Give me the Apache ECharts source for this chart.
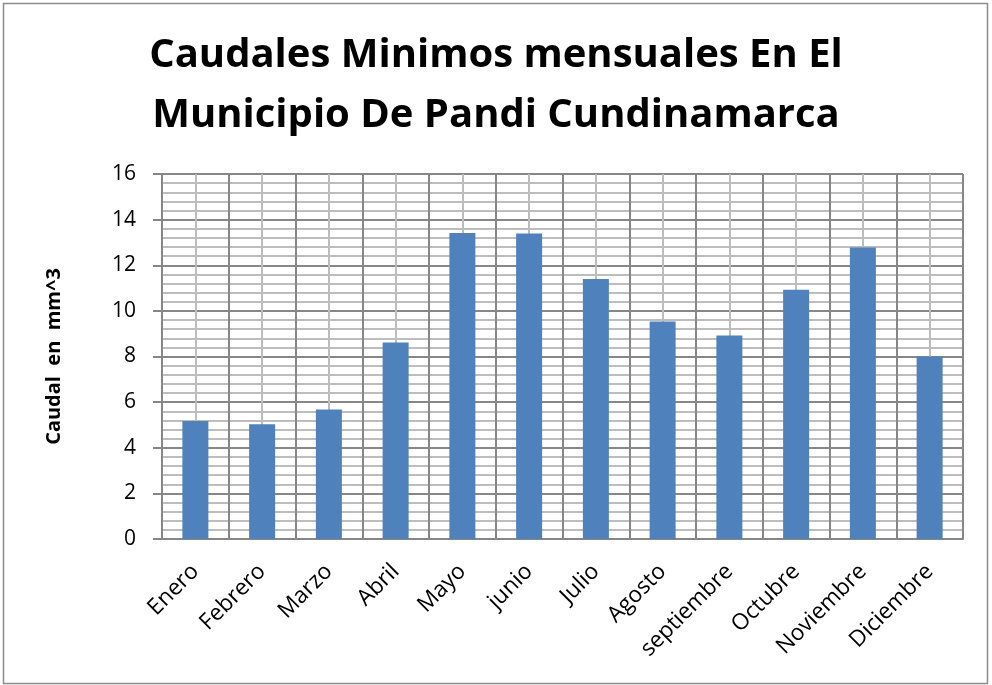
<!DOCTYPE html>
<html><head><meta charset="utf-8">
<script src="https://cdn.jsdelivr.net/npm/echarts@6/dist/echarts.min.js"></script>
<style>html,body{margin:0;padding:0;background:#fff}#c{width:992px;height:685px}</style>
</head><body><div id="c"></div>
<script>
var titleText = 'Caudales Minimos mensuales En El\nMunicipio De Pandi Cundinamarca';
var yAxisName = 'Caudal  en  mm^3';
var months = ['Enero','Febrero','Marzo','Abril','Mayo','junio','Julio','Agosto','septiembre','Octubre','Noviembre','Diciembre'];
var caudal = [5.17, 5.03, 5.68, 8.61, 13.41, 13.39, 11.40, 9.53, 8.92, 10.93, 12.78, 8.0];
var yTicks = [0, 2, 4, 6, 8, 10, 12, 14, 16];

var font = 'Open Sans';
var chart = echarts.init(document.getElementById('c'), null, {renderer:'canvas'});
chart.setOption({
  animation: false,
  backgroundColor: '#fff',
  title: {
    text: titleText, left: 'center', top: 21,
    textStyle: {fontFamily: font, fontWeight: 'bold', fontSize: 40, color: '#000', lineHeight: 60}
  },
  graphic: [{type:'rect', shape:{x:3.5,y:3.5,width:984,height:680}, style:{fill:null, stroke:'#8c8c8c', lineWidth:1.5}, silent:true}],
  grid: {left: 162, right: 29, top: 174, bottom: 146},
  xAxis: [{
    type: 'category', data: months, boundaryGap: true,
    axisLine: {show: true, lineStyle: {color: '#878787', width: 2}},
    axisTick: {show: false},
    axisLabel: {rotate: 45, fontFamily: font, fontSize: 22.5, color: '#000', margin: 29, interval: 0},
    splitLine: {show: false}
  }, {
    type: 'value', min: 0, max: 12, interval: 0.5, position: 'bottom',
    axisLine: {show: false}, axisTick: {show: false}, axisLabel: {show: false},
    splitLine: {show: true, lineStyle: {color: ['#878787', '#bdbdbd'], width: 2}}
  }],
  yAxis: {
    type: 'value', min: yTicks[0], max: yTicks[yTicks.length-1], interval: 2,
    name: yAxisName, nameLocation: 'middle', nameGap: 98, nameRotate: 90,
    nameTextStyle: {fontFamily: font, fontWeight: 'bold', fontSize: 20, color: '#000'},
    axisLine: {show: true, lineStyle: {color: '#878787', width: 2}},
    axisTick: {show: true, length: 9, lineStyle: {color: '#878787', width: 2}},
    axisLabel: {fontFamily: font, fontSize: 21, color: '#000', margin: 26},
    minorTick: {show: false, splitNumber: 5},
    minorSplitLine: {show: true, lineStyle: {color: '#bdbdbd', width: 2}},
    splitLine: {show: true, lineStyle: {color: '#878787', width: 2}}
  },
  series: [{
    type: 'bar', data: caudal, xAxisIndex: 0, barWidth: 26, z: 5,
    itemStyle: {color: '#4f81bd'}
  }]
});
</script></body></html>
